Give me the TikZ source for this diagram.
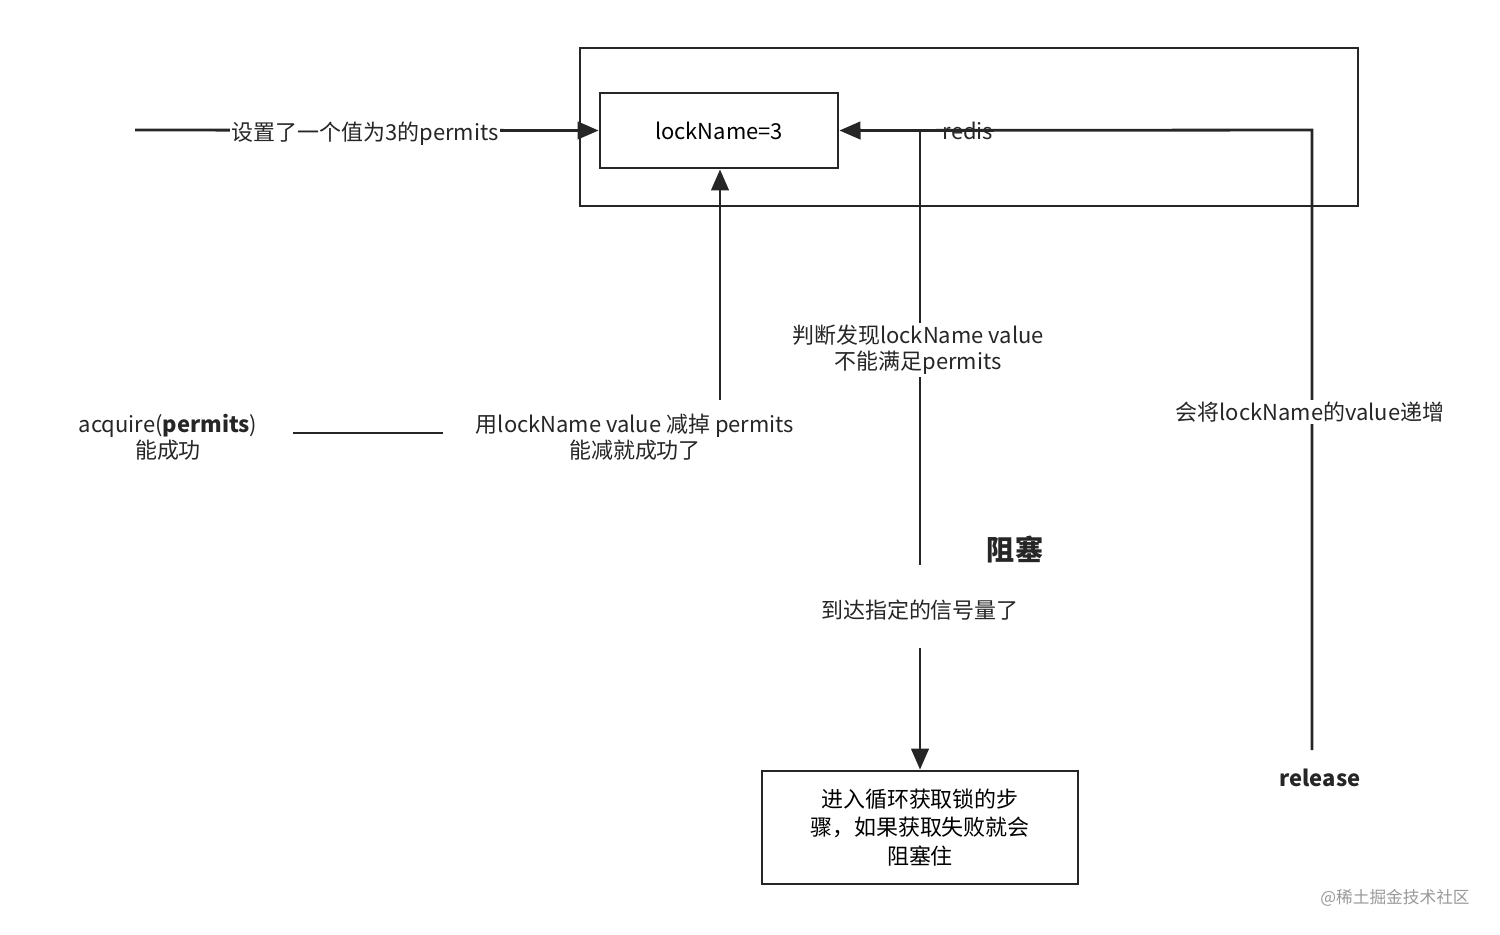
\documentclass[tikz,border=0pt]{standalone}
\usepackage{fontspec}
\setmainfont{Noto Sans CJK SC}
\usetikzlibrary{arrows.meta}
\begin{document}
\begin{tikzpicture}[x=0.02cm,y=-0.02cm,
  ln/.style={line width=1.6pt,draw=black!85},
  ar/.style={ln,-{Triangle[length=12pt,width=10pt]}},
  lbl/.style={fill=white,inner sep=1pt,font=\fontsize{12.5}{15}\selectfont,align=center,text=black!85},
  box/.style={draw=black!85,line width=1.6pt}]
\useasboundingbox (0,0) rectangle (1500,934);
\draw[box] (580,48) rectangle (1358,206);
\node[box,minimum width=238*0.02cm,minimum height=75*0.02cm,font=\fontsize{12.5}{15}\selectfont] (lock) at (719,130.5) {lockName=3};
\coordinate (s) at (135,130);
\draw[ar] (s) -- (lock.west);
\node[lbl] (l1) at (365,134) {设置了一个值为3的permits};
\coordinate (r0) at (1312,750);
\coordinate (r1) at (1312,130);
\draw[ar] (r0) -- (r1) -- (lock.east);
\node[lbl,fill=none] (redis) at (968,131) {redis};
\node[lbl] (inc) at (1310,412) {会将lockName的value递增};
\node[lbl,font=\fontsize{12.5}{15}\bfseries] (rel) at (1320,778) {release};
\coordinate (j0) at (920,130);
\coordinate (j1) at (920,565);
\draw[ln] (j0) -- (j1);
\node[lbl,fill=white] (jd) at (918,350) {判断发现lockName value\\不能满足permits};
\node[lbl,font=\fontsize{16}{19}\bfseries] (zs) at (1015,550) {阻塞};
\node[lbl] (dd) at (920,610) {到达指定的信号量了};
\node[box,minimum width=316*0.02cm,minimum height=113*0.02cm,align=center,font=\fontsize{12.5}{16}\selectfont] (loop) at (920,827.5) {进入循环获取锁的步\\骤，如果获取失败就会\\阻塞住};
\coordinate (d0) at (920,648);
\draw[ar] (d0) -- (loop.north);
\node[lbl] (acq) at (168,437) {acquire(\textbf{permits})\\能成功};
\coordinate (a0) at (293,433);
\coordinate (a1) at (443,433);
\draw[ln] (a0) -- (a1);
\node[lbl] (sub) at (635,437) {用lockName value 减掉 permits\\能减就成功了};
\coordinate (u0) at (720,400);
\draw[ar] (u0) -- (u0|-lock.south);
\node[font=\fontsize{9.5}{11}\selectfont,text=black!40] (wm) at (1395,898) {@稀土掘金技术社区};
\end{tikzpicture}
\end{document}
